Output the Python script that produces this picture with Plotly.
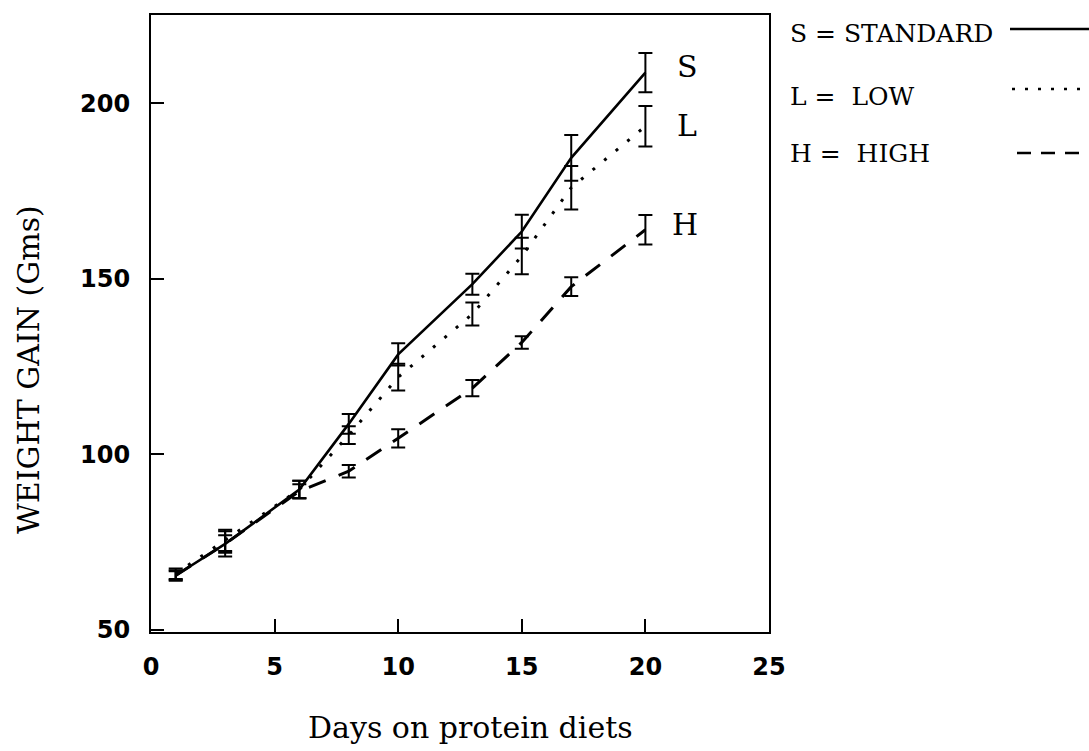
import plotly.graph_objects as go

days = [1, 3, 6, 8, 10, 13, 15, 17, 20]

standard = [65.5, 74.5, 90.0, 108.7, 128.5, 148.5, 163.5, 184.5, 208.8]
standard_err = [1.5, 3.6, 2.5, 2.8, 3.2, 3.0, 4.8, 6.5, 5.6]

low = [66.0, 75.5, 90.0, 105.5, 122.0, 140.0, 156.5, 176.0, 193.5]
low_err = [1.5, 3.0, 2.5, 2.5, 3.8, 3.3, 5.2, 6.2, 5.8]

high = [65.5, 74.5, 89.5, 95.2, 104.6, 118.9, 131.9, 147.8, 164.0]
high_err = [1.2, 2.5, 2.0, 1.8, 2.6, 2.3, 1.8, 2.7, 4.2]

x_ticks = [0, 5, 10, 15, 20, 25]
y_ticks = [50, 100, 150, 200]

end_labels = ["S", "L", "H"]
end_label_x = [21.7, 21.7, 21.6]
end_label_y = [210.4, 193.8, 165.6]

legend_text = ["S = STANDARD", "L =  LOW", "H =  HIGH"]

SERIF = "DejaVu Serif"

fig = go.Figure()

def add_series(y, err, dash, name):
    fig.add_trace(go.Scatter(
        x=days, y=y, mode="lines", name=name,
        line=dict(color="black", width=2.6 if dash == "solid" else 3, dash=dash),
        error_y=dict(type="data", array=err, visible=True, color="black",
                     thickness=2, width=7),
        showlegend=False,
    ))

add_series(high, high_err, "18px,14px", "HIGH")
add_series(low, low_err, "3px,12px", "LOW")
add_series(standard, standard_err, "solid", "STANDARD")

annotations = []
for t, xx, yy in zip(end_labels, end_label_x, end_label_y):
    annotations.append(dict(x=xx, y=yy, xref="x", yref="y", text=t, showarrow=False,
                            xanchor="center", yanchor="middle",
                            font=dict(family=SERIF, size=30, color="black")))

# legend text (paper coords)
leg_y_px = [33, 97, 153]
for t, py in zip(legend_text, leg_y_px):
    annotations.append(dict(x=(788 - 151) / 618, y=(632 - py) / 617, xref="paper", yref="paper",
                            text=t.replace(" ", "&nbsp;"), showarrow=False, xanchor="left", yanchor="middle",
                            font=dict(family=SERIF, size=25, color="black")))

# axis titles
annotations.append(dict(x=(470 - 151) / 618, y=(632 - 727) / 617, xref="paper", yref="paper",
                        text="Days on protein diets", showarrow=False, xanchor="center", yanchor="middle",
                        font=dict(family=SERIF, size=30, color="black")))
annotations.append(dict(x=(28 - 151) / 618, y=(632 - 370) / 617, xref="paper", yref="paper",
                        text="WEIGHT GAIN (Gms)", showarrow=False, xanchor="center", yanchor="middle",
                        textangle=-90,
                        font=dict(family=SERIF, size=30, color="black")))

shapes = []
leg_line = [(29, 1010, "solid"), (89, 1012, "3px,10px"), (153, 1017, "14px,10px")]
for py, px0, d in leg_line:
    shapes.append(dict(type="line", xref="paper", yref="paper",
                       x0=(px0 - 151) / 618, x1=(1095 - 151) / 618,
                       y0=(632 - py) / 617, y1=(632 - py) / 617,
                       line=dict(color="black", width=2.5, dash=d)))

fig.update_layout(
    width=1089, height=751,
    margin=dict(l=151, r=320, t=15, b=119),
    paper_bgcolor="white", plot_bgcolor="white",
    annotations=annotations, shapes=shapes,
    showlegend=False,
)
fig.update_xaxes(range=[0, 25], tickvals=x_ticks, ticks="inside", ticklen=13, tickwidth=2,
                 tickcolor="black", showline=True, linewidth=2, linecolor="black", mirror=True,
                 showgrid=False, zeroline=False, ticklabelstandoff=12,
                 tickfont=dict(family="DejaVu Sans", size=24, color="black", weight="bold"))
fig.update_yaxes(range=[49.4, 225.2], tickvals=y_ticks, ticks="inside", ticklen=13, tickwidth=2,
                 tickcolor="black", showline=True, linewidth=2, linecolor="black", mirror=True,
                 showgrid=False, zeroline=False, ticklabelstandoff=14,
                 tickfont=dict(family="DejaVu Sans", size=24, color="black", weight="bold"))

fig.write_html("out.html")
